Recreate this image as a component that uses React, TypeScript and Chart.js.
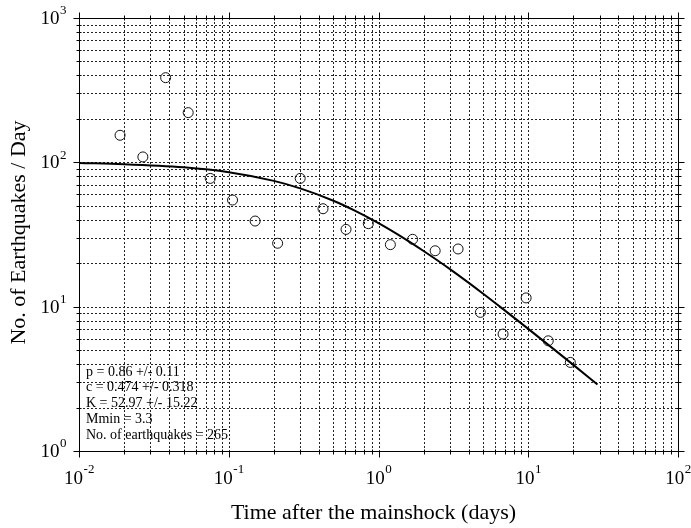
import React, { useEffect, useRef } from "react";
import { Chart, registerables } from "chart.js";

Chart.register(...registerables);

// Observed daily rates
const timeDays = [0.0188, 0.0267, 0.0379, 0.0536, 0.0752, 0.106, 0.15, 0.212, 0.3, 0.426, 0.607, 0.855, 1.2, 1.69, 2.39, 3.4, 4.79, 6.79, 9.68, 13.6, 19.1];
const quakesPerDay = [154, 109, 386, 221, 77.4, 54.8, 39.2, 27.5, 77.4, 47.7, 34.3, 37.6, 26.9, 29.3, 24.4, 25.1, 9.13, 6.46, 11.5, 5.8, 4.11];

// Fitted Omori curve
const fitTime = [0.01, 0.02, 0.05, 0.1, 0.2, 0.3, 0.5, 0.7, 1, 1.5, 2, 3, 5, 7, 10, 15, 20, 29];
const fitRate = [98.9, 97.1, 92.3, 85.4, 74.4, 66.0, 54.2, 46.1, 37.9, 29.5, 24.3, 18.2, 12.3, 9.39, 7.02, 5.02, 3.95, 2.89];

// Axis decades (tick labels are 10^exponent)
const xExponents = [-2, -1, 0, 1, 2];
const yExponents = [0, 1, 2, 3];

const xTitle = "Time after the mainshock (days)";
const yTitle = "No. of Earthquakes / Day";
const fitNotes = [
  "p = 0.86 +/- 0.11",
  "c = 0.474 +/- 0.318",
  "K = 52.97 +/- 15.22",
  "Mmin = 3.3",
  "No. of earthquakes = 265",
];

const SERIF = '"Liberation Serif", "Times New Roman", serif';

function tickValues(exps: number[]) {
  const out: { v: number; major: boolean }[] = [];
  for (let i = 0; i < exps.length; i++) {
    const e = exps[i];
    if (i === exps.length - 1) {
      out.push({ v: Math.pow(10, e), major: true });
    } else {
      for (let m = 1; m <= 9; m++) {
        out.push({ v: Number((m * Math.pow(10, e)).toPrecision(6)), major: m === 1 });
      }
    }
  }
  return out;
}

const xTicks = tickValues(xExponents);
const yTicks = tickValues(yExponents);

const gridPlugin = {
  id: "logGrid",
  beforeDatasetsDraw(chart: any) {
    const { ctx, chartArea: a, scales } = chart;
    ctx.save();
    ctx.strokeStyle = "#222";
    ctx.lineWidth = 1;
    ctx.setLineDash([2, 2]);
    for (const t of xTicks) {
      const x = Math.round(scales.x.getPixelForValue(t.v)) + 0.5;
      if (x <= a.left + 1 || x >= a.right - 1) continue;
      ctx.beginPath();
      ctx.moveTo(x, a.top);
      ctx.lineTo(x, a.bottom);
      ctx.stroke();
    }
    for (const t of yTicks) {
      const y = Math.round(scales.y.getPixelForValue(t.v)) + 0.5;
      if (y <= a.top + 1 || y >= a.bottom - 1) continue;
      ctx.beginPath();
      ctx.moveTo(a.left, y);
      ctx.lineTo(a.right, y);
      ctx.stroke();
    }
    ctx.restore();
  },
  afterDraw(chart: any) {
    const { ctx, chartArea: a, scales } = chart;
    const L = Math.round(a.left) + 0.5;
    const R = Math.round(a.right) + 0.5;
    const T = Math.round(a.top) + 0.5;
    const B = Math.round(a.bottom) + 0.5;
    ctx.save();
    ctx.setLineDash([]);
    ctx.strokeStyle = "#000";
    ctx.lineWidth = 1;
    ctx.strokeRect(L, T, R - L, B - T);

    // tick marks
    ctx.beginPath();
    for (const t of xTicks) {
      const x = Math.round(scales.x.getPixelForValue(t.v)) + 0.5;
      const out = t.major ? 6 : 3;
      const inn = t.major ? 0 : 2;
      ctx.moveTo(x, B - inn);
      ctx.lineTo(x, B + out);
      ctx.moveTo(x, T + inn);
      ctx.lineTo(x, T - out);
    }
    for (const t of yTicks) {
      const y = Math.round(scales.y.getPixelForValue(t.v)) + 0.5;
      const out = t.major ? 6 : 3;
      const inn = t.major ? 0 : 2;
      ctx.moveTo(L + inn, y);
      ctx.lineTo(L - out, y);
      ctx.moveTo(R - inn, y);
      ctx.lineTo(R + out, y);
    }
    ctx.stroke();

    // tick labels 10^n
    ctx.fillStyle = "#000";
    ctx.textBaseline = "middle";
    ctx.textAlign = "left";
    const bigFont = `19px ${SERIF}`;
    const supFont = `13px ${SERIF}`;
    for (const e of xExponents) {
      const x = scales.x.getPixelForValue(Math.pow(10, e));
      ctx.font = bigFont;
      const w1 = ctx.measureText("10").width;
      ctx.font = supFont;
      const s = String(e);
      const w2 = ctx.measureText(s).width;
      const start = x - (w1 + w2) / 2;
      ctx.font = bigFont;
      ctx.fillText("10", start, 479);
      ctx.font = supFont;
      ctx.fillText(s, start + w1 + 0.5, 470);
    }
    for (const e of yExponents) {
      const y = scales.y.getPixelForValue(Math.pow(10, e));
      ctx.font = bigFont;
      const w1 = ctx.measureText("10").width;
      ctx.font = supFont;
      const s = String(e);
      const w2 = ctx.measureText(s).width;
      const start = 66 - (w1 + w2);
      ctx.font = bigFont;
      ctx.fillText("10", start, y + 1);
      ctx.font = supFont;
      ctx.fillText(s, start + w1 + 0.5, y - 7);
    }

    // axis titles
    ctx.font = `22px ${SERIF}`;
    ctx.textAlign = "center";
    ctx.fillText(xTitle, (a.left + a.right) / 2 - 5, 513);
    ctx.save();
    ctx.translate(19, (a.top + a.bottom) / 2 - 2);
    ctx.rotate(-Math.PI / 2);
    ctx.fillText(yTitle, 0, 0);
    ctx.restore();

    // fit notes
    ctx.font = `14px ${SERIF}`;
    ctx.textAlign = "left";
    fitNotes.forEach((line, i) => {
      ctx.fillText(line, 86, 372 + i * 15.8);
    });
    ctx.restore();
  },
};

export default function App() {
  const ref = useRef<HTMLCanvasElement | null>(null);
  useEffect(() => {
    if (!ref.current) return;
    const chart = new Chart(ref.current, {
      type: "scatter",
      data: {
        datasets: [
          {
            label: "Omori fit",
            data: fitTime.map((t, i) => ({ x: t, y: fitRate[i] })),
            showLine: true,
            borderColor: "#000",
            borderWidth: 2,
            pointRadius: 0,
            cubicInterpolationMode: "monotone",
            fill: false,
          } as any,
          {
            label: "Observed",
            data: timeDays.map((t, i) => ({ x: t, y: quakesPerDay[i] })),
            showLine: false,
            pointRadius: 5,
            pointBorderWidth: 1,
            pointBorderColor: "#111",
            pointBackgroundColor: "rgba(0,0,0,0)",
            borderColor: "#111",
            backgroundColor: "rgba(0,0,0,0)",
          } as any,
        ],
      },
      options: {
        responsive: false,
        animation: false,
        devicePixelRatio: 1,
        layout: { padding: { left: 79, right: 13, top: 18, bottom: 77 } },
        plugins: { legend: { display: false }, tooltip: { enabled: false }, title: { display: false } },
        scales: {
          x: {
            type: "logarithmic",
            min: Math.pow(10, xExponents[0]),
            max: Math.pow(10, xExponents[xExponents.length - 1]),
            afterBuildTicks: (s: any) => {
              s.ticks = xTicks.map((t) => ({ value: t.v, major: t.major }));
            },
            ticks: { display: false },
            grid: { display: false, drawTicks: false },
            border: { display: false },
          },
          y: {
            type: "logarithmic",
            min: Math.pow(10, yExponents[0]),
            max: Math.pow(10, yExponents[yExponents.length - 1]),
            afterBuildTicks: (s: any) => {
              s.ticks = yTicks.map((t) => ({ value: t.v, major: t.major }));
            },
            ticks: { display: false },
            grid: { display: false, drawTicks: false },
            border: { display: false },
          },
        },
      },
      plugins: [gridPlugin],
    });
    return () => chart.destroy();
  }, []);
  return (
    <div style={{ position: "fixed", left: 0, top: 0, width: 691, height: 528, background: "#fff" }}>
      <canvas ref={ref} width={691} height={528} style={{ display: "block" }} />
    </div>
  );
}
